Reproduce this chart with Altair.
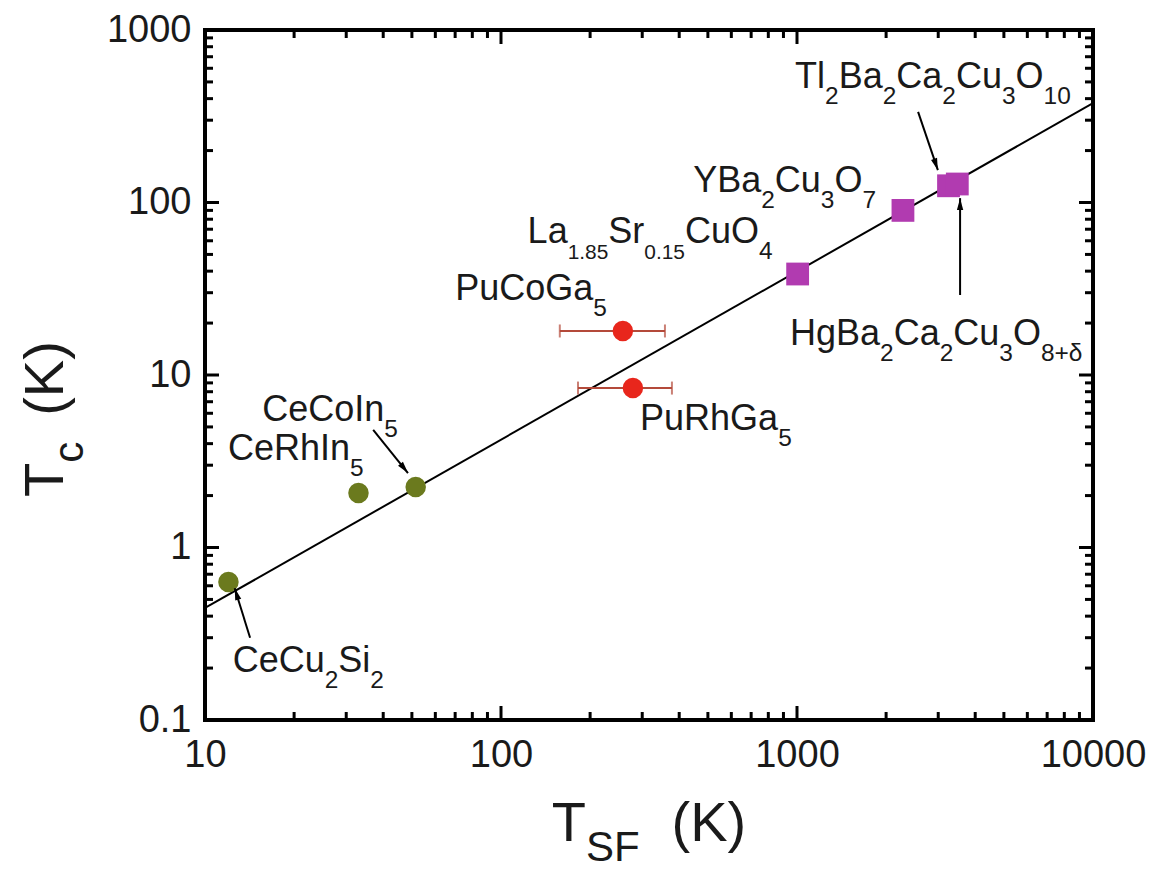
import math
import altair as alt
import pandas as pd

# ---------------- data ----------------
materials = ["CeCu2Si2", "CeRhIn5", "CeCoIn5", "PuCoGa5", "PuRhGa5",
             "La1.85Sr0.15CuO4", "YBa2Cu3O7", "Tl2Ba2Ca2Cu3O10", "HgBa2Ca2Cu3O8+d"]
families = ["Ce", "Ce", "Ce", "Pu", "Pu", "Cu", "Cu", "Cu", "Cu"]
tsf_k = [12.0, 33.0, 51.5, 258, 279, 1005, 2280, 3250, 3480]
tc_k = [0.63, 2.07, 2.24, 18.0, 8.4, 38.5, 90, 125, 128]

err_tc = [18.0, 8.4]
err_lo = [158, 182]
err_hi = [358, 378]

fit_tsf = [10, 10000]
fit_tc = [0.446, 377]

# annotation arrows (tail -> head), data coordinates
arrow_x0 = [14.2, 37.0, 2565, 3556]
arrow_y0 = [0.30, 4.8, 335, 29.1]
arrow_x1 = [12.6, 48.5, 2992, 3556]
arrow_y1 = [0.58, 2.7, 154, 106]

# label anchors (left edge, baseline) in data coordinates
label_x = [12.4, 11.96, 15.6, 70, 295, 123, 446, 985, 947]
label_y = [0.19, 3.22, 5.41, 27.2, 4.8, 58.2, 115, 461, 14.9]
SUB = 0.68
SUB_S = 0.58
label_parts = [
    [("CeCu", 0), ("2", SUB), ("Si", 0), ("2", SUB)],
    [("CeRhIn", 0), ("5", SUB)],
    [("CeCoIn", 0), ("5", SUB)],
    [("PuCoGa", 0), ("5", SUB)],
    [("PuRhGa", 0), ("5", SUB)],
    [("La", 0), ("1.85", SUB_S), ("Sr", 0), ("0.15", SUB_S), ("CuO", 0), ("4", SUB)],
    [("YBa", 0), ("2", SUB), ("Cu", 0), ("3", SUB), ("O", 0), ("7", SUB)],
    [("Tl", 0), ("2", SUB), ("Ba", 0), ("2", SUB), ("Ca", 0), ("2", SUB),
     ("Cu", 0), ("3", SUB), ("O", 0), ("10", SUB)],
    [("HgBa", 0), ("2", SUB), ("Ca", 0), ("2", SUB), ("Cu", 0), ("3", SUB),
     ("O", 0), ("8+δ", SUB)],
]

x_major = [10, 100, 1000, 10000]
x_minor = [m * d for d in (10, 100, 1000) for m in range(2, 10)]
y_major = [0.1, 1, 10, 100, 1000]
y_minor = [m * d for d in (0.1, 1, 10, 100) for m in range(2, 10)]

# ---------------- styling ----------------
W, H = 888, 690
FONT = "Liberation Sans"
TXT = "#1a1a1a"
LABEL_SIZE = 36
TITLE_SIZE = 56

AR = {'B': 667, 'C': 722, 'F': 611, 'G': 778, 'H': 722, 'I': 278, 'K': 667, 'L': 556,
      'O': 778, 'P': 667, 'R': 722, 'S': 667, 'T': 611, 'Y': 667,
      'a': 556, 'c': 500, 'e': 556, 'g': 556, 'h': 556, 'i': 222, 'l': 222, 'n': 556,
      'o': 556, 'r': 333, 'u': 556, '.': 278, '+': 584, '(': 333, ')': 333, ' ': 278,
      'δ': 556}


def tw(s, size):
    return size * sum(AR.get(ch, 556) for ch in s) / 1000.0


xs = alt.Scale(type="log", domain=[10, 10000])
ys = alt.Scale(type="log", domain=[0.1, 1000])
axis_common = dict(ticks=False, domain=False, grid=False, labelFont=FONT,
                   labelFontSize=38, labelColor=TXT, title=None, format="~g",
                   labelFlush=False, labelOverlap=False)
x_axis = alt.Axis(values=x_major, labelPadding=16, **axis_common)
y_axis = alt.Axis(values=y_major, labelPadding=14, **axis_common)


def X(f):
    return alt.X(f, type="quantitative", scale=xs, axis=x_axis)


def Y(f):
    return alt.Y(f, type="quantitative", scale=ys, axis=y_axis)


def rich_text(pieces, size, drop, data, x_enc, y_enc, angle=None, center=False):
    items = []
    off = 0.0
    for p in pieces:
        t, ratio = p[0], p[1]
        gap = p[2] if len(p) > 2 else 0
        off += gap
        fs = size * ratio if ratio else size
        items.append((t, fs, off, drop * size if ratio else 0))
        off += tw(t, fs)
    shift = -off / 2 if center else 0
    out = []
    for t, fs, dx, dy in items:
        kw = dict(text=t, font=FONT, fontSize=fs, align="left", baseline="alphabetic",
                  dx=dx + shift, dy=dy, color=TXT)
        if angle is not None:
            kw["angle"] = angle
        out.append(alt.Chart(data).mark_text(**kw).encode(x=x_enc, y=y_enc))
    return out


layers = []

# fit line
fit_df = pd.DataFrame({"tsf": fit_tsf, "tc": fit_tc})
layers.append(
    alt.Chart(fit_df).mark_line(color="black", strokeWidth=2, clip=True).encode(
        x=X("tsf"), y=Y("tc"))
)

# inward ticks on all four sides
for vals, L in ((x_major, 14), (x_minor, 8)):
    d = pd.DataFrame({"v": vals})
    layers.append(alt.Chart(d).mark_rule(color="black", strokeWidth=3).encode(
        x=X("v"), y=alt.value(H), y2=alt.value(H - L)))
    layers.append(alt.Chart(d).mark_rule(color="black", strokeWidth=3).encode(
        x=X("v"), y=alt.value(0), y2=alt.value(L)))
for vals, L in ((y_major, 14), (y_minor, 8)):
    d = pd.DataFrame({"v": vals})
    layers.append(alt.Chart(d).mark_rule(color="black", strokeWidth=3).encode(
        y=Y("v"), x=alt.value(0), x2=alt.value(L)))
    layers.append(alt.Chart(d).mark_rule(color="black", strokeWidth=3).encode(
        y=Y("v"), x=alt.value(W), x2=alt.value(W - L)))

# error bars
err_df = pd.DataFrame({"lo": err_lo, "hi": err_hi, "tc": err_tc})
ERR = "#b44a3a"
layers.append(alt.Chart(err_df).mark_rule(color=ERR, strokeWidth=2).encode(
    x=X("lo"), x2="hi", y=Y("tc")))
for f in ("lo", "hi"):
    layers.append(alt.Chart(err_df).mark_tick(color=ERR, orient="vertical", size=13,
                                              thickness=2).encode(x=X(f), y=Y("tc")))

# points
pts = pd.DataFrame({"name": materials, "fam": families, "tsf": tsf_k, "tc": tc_k})
fam_scale = alt.Scale(domain=["Ce", "Pu", "Cu"], range=["#6b7a1e", "#e8261c", "#b13bb0"])
layers.append(alt.Chart(pts).transform_filter("datum.fam != 'Cu'").mark_point(
    shape="circle", filled=True, size=420, opacity=1).encode(
    x=X("tsf"), y=Y("tc"), color=alt.Color("fam:N", scale=fam_scale, legend=None)))
layers.append(alt.Chart(pts).transform_filter("datum.fam == 'Cu'").mark_point(
    shape="square", filled=True, size=520, opacity=1).encode(
    x=X("tsf"), y=Y("tc"), color=alt.Color("fam:N", scale=fam_scale, legend=None)))

# arrows


def px(x, y):
    return (W * (math.log10(x) - 1) / 3.0, H * (3 - math.log10(y)) / 4.0)


angles = []
for a, b, c, d in zip(arrow_x0, arrow_y0, arrow_x1, arrow_y1):
    p0, p1 = px(a, b), px(c, d)
    ang = math.degrees(math.atan2(p1[0] - p0[0], -(p1[1] - p0[1]))) % 360
    angles.append(ang)
arr_df = pd.DataFrame({"x0": arrow_x0, "y0": arrow_y0, "x1": arrow_x1, "y1": arrow_y1,
                       "ang": angles})
layers.append(alt.Chart(arr_df).mark_rule(color="black", strokeWidth=2).encode(
    x=X("x0"), y=Y("y0"), x2="x1", y2="y1"))
layers.append(alt.Chart(arr_df).mark_point(shape="M0,0L0.45,1.7L-0.45,1.7Z", filled=True,
                                           size=196, color="black", opacity=1).encode(
    x=X("x1"), y=Y("y1"), angle=alt.Angle("ang:Q", scale=None)))

# data labels
for parts, lx, ly in zip(label_parts, label_x, label_y):
    d = pd.DataFrame({"tsf": [lx], "tc": [ly]})
    layers += rich_text(parts, LABEL_SIZE, 0.44, d, X("tsf"), Y("tc"))

# axis titles built from text pieces (for subscripts)
one = pd.DataFrame({"a": [0]})
layers += rich_text([("T", 0), ("SF", 0.75), ("(K)", 0, 32)], TITLE_SIZE, 0.36, one,
                    alt.value(W / 2), alt.value(H + 121), center=True)
layers += rich_text([("T", 0), ("c", 0.75), ("(K)", 0, 26)], TITLE_SIZE, 0.36, one,
                    alt.value(-142), alt.value(467), angle=270)

chart = alt.layer(*layers).properties(
    width=W, height=H, padding={"left": 10, "top": 3, "right": 5, "bottom": 12},
    background="white",
).configure_view(stroke="black", strokeWidth=4)

chart.save("out.html", embed_options={"renderer": "svg", "actions": False})
